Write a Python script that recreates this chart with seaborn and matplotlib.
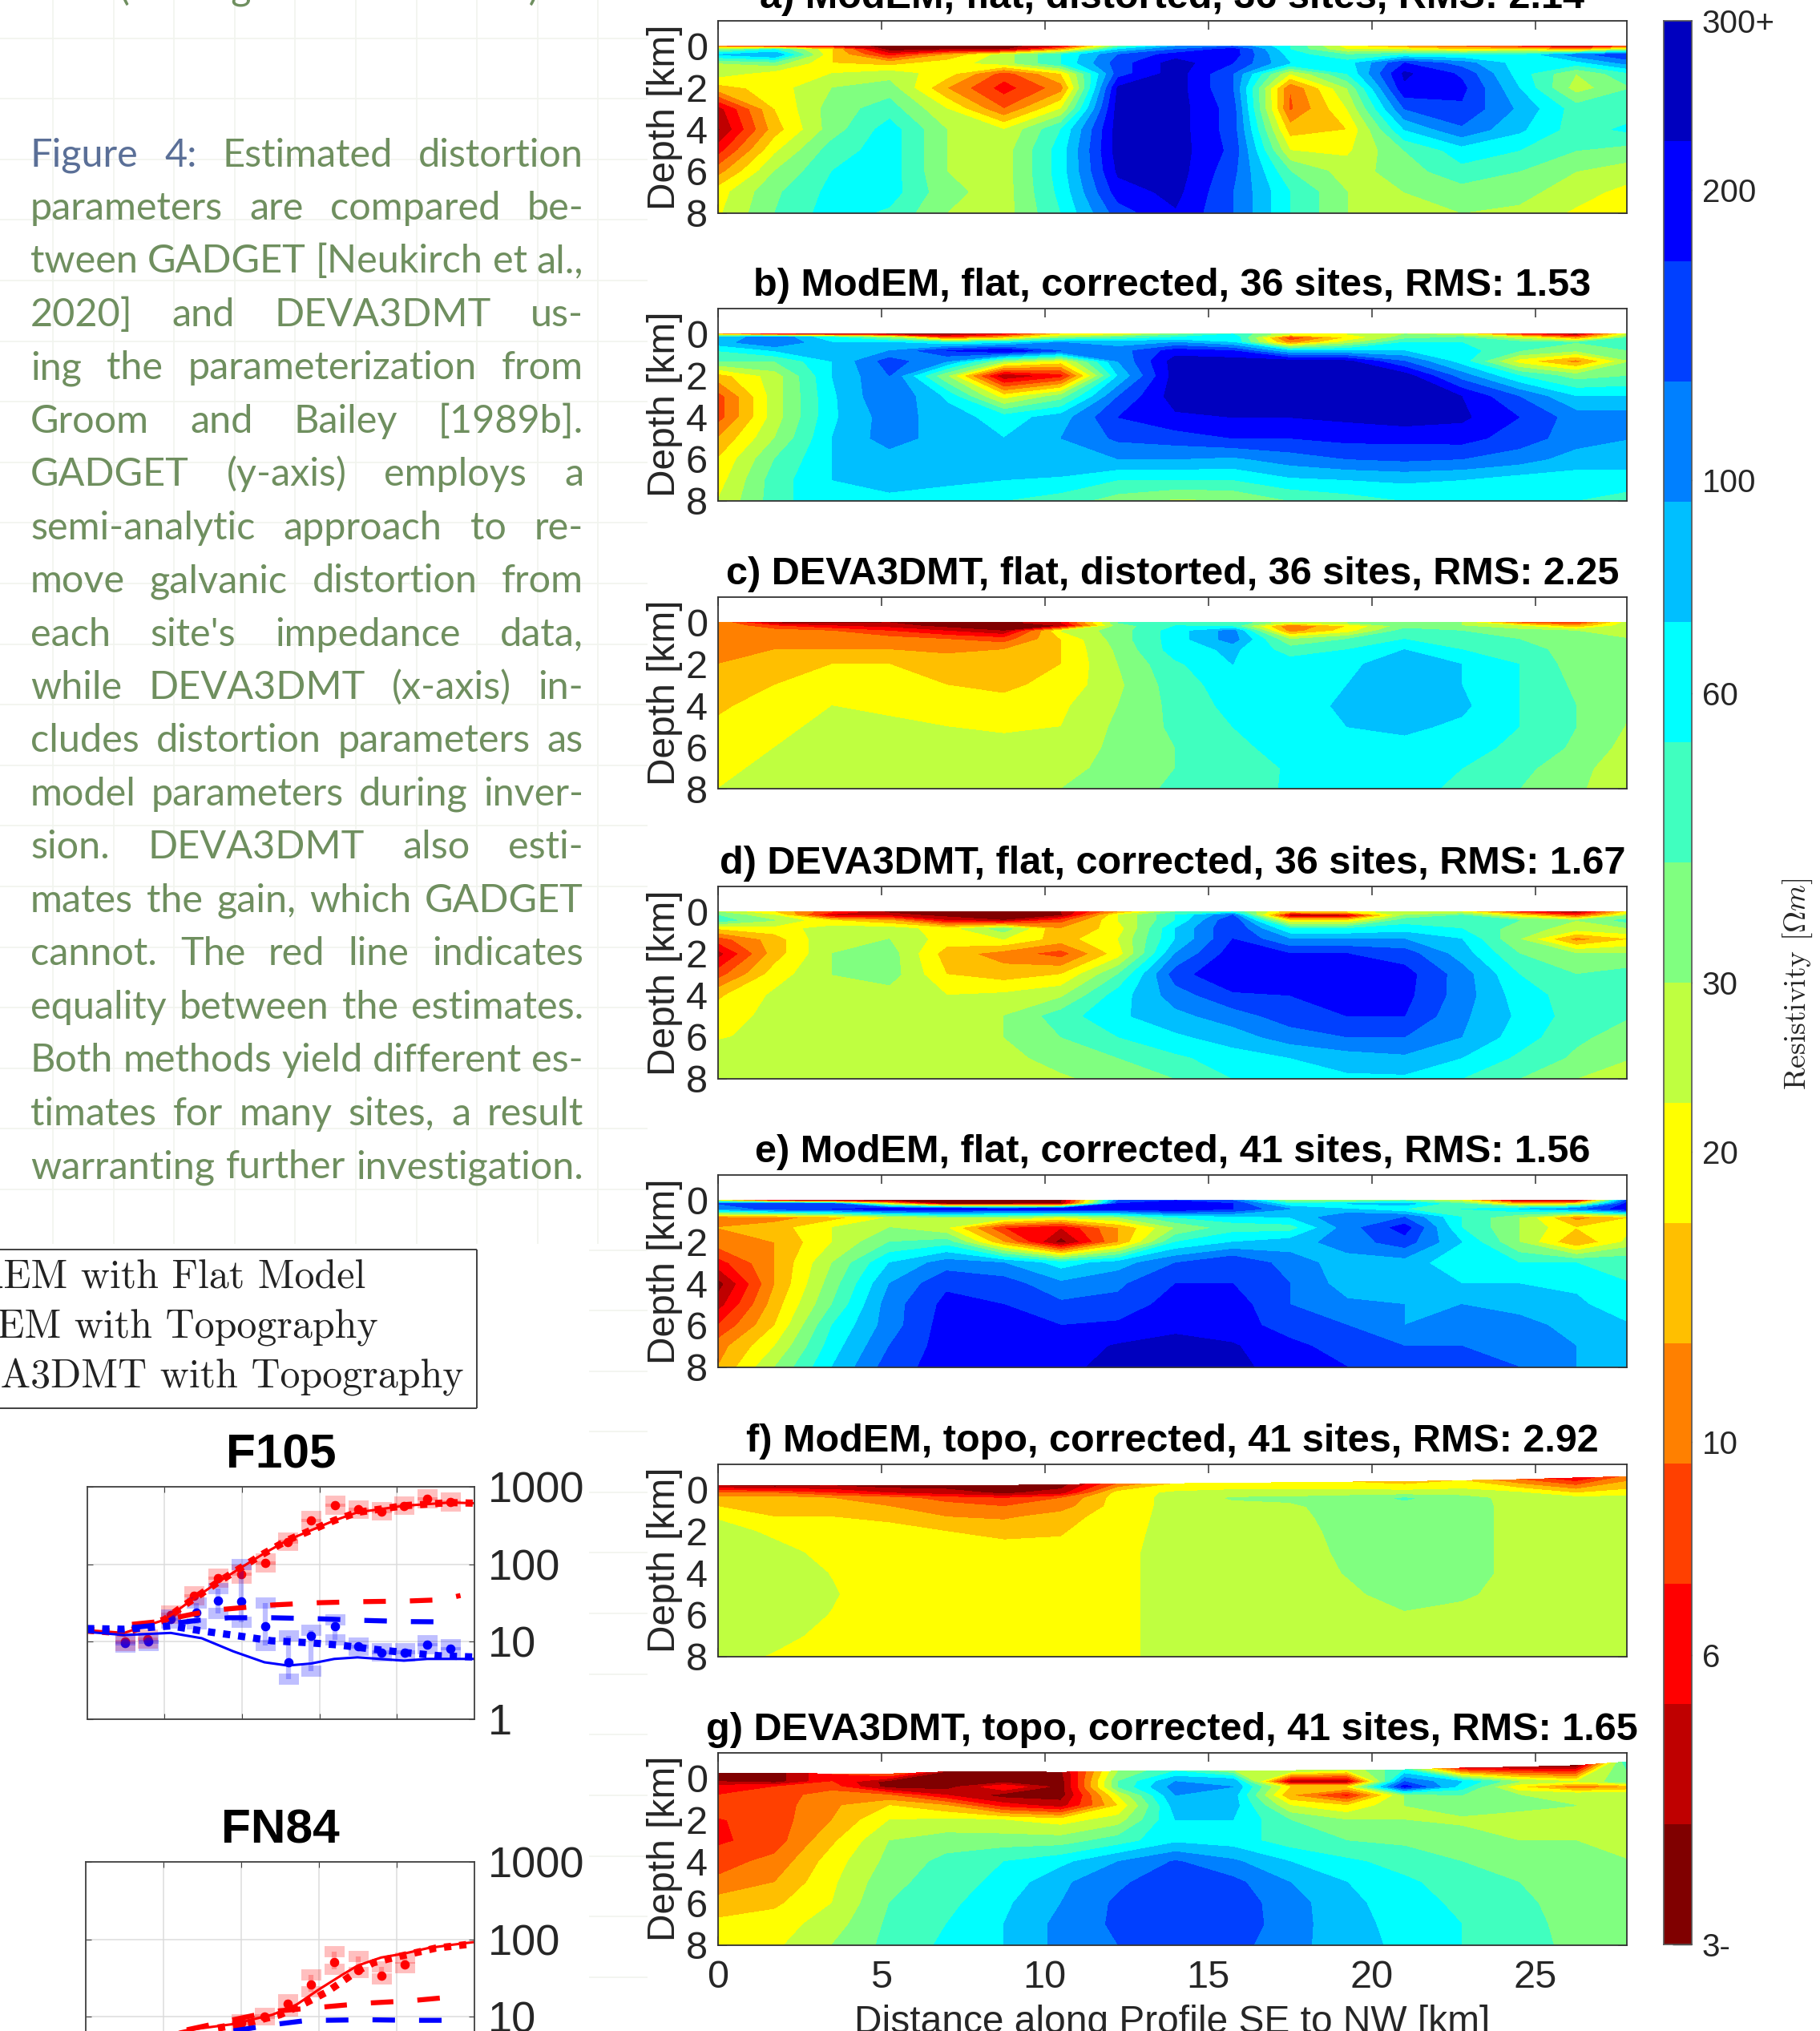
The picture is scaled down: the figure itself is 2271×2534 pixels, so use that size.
import numpy as np
import matplotlib
matplotlib.use('Agg')
import matplotlib.pyplot as plt
from matplotlib.colors import ListedColormap
import seaborn as sns

W, H = 2271, 2534

# distance along profile [km] and depth rows [km] of the read-off grids
dist = [0, 1.75, 3.5, 5.25, 7, 8.75, 10.5, 12.25, 14, 15.75, 17.5, 19.25, 21, 22.75, 24.5, 26.25, 28]
depth = [0, 0.15, 0.4, 0.8, 1.3, 2, 3, 4, 5, 6, 7, 8]

section_a = [
    [4, 3, 2, 0.5, 0.5, 0.5, 2, 9, 12, 13, 10, 6.5, 5, 4, 3, 1, 4],
    [8, 10, 6, 0.5, 1, 0.8, 5, 11, 13, 14.5, 10, 7, 7, 6, 6.5, 5, 8],
    [11, 12, 6, 2.5, 5, 7.5, 10, 13, 14.5, 14.5, 10.5, 9, 10, 10, 10, 12.5, 14],
    [8, 8.5, 6, 5.5, 6.5, 7.5, 10, 13.5, 15.5, 14, 11, 10.5, 14, 12.5, 10.5, 10.5, 12.5],
    [7.5, 6.5, 7, 7.5, 6.5, 3.5, 6, 13.5, 15.5, 13, 7, 10, 15.2, 13.8, 10.5, 8, 10],
    [5.5, 6.5, 8, 8.5, 5, 2.5, 4.5, 15.2, 15.5, 13, 4, 8, 14.8, 14.3, 11, 7.5, 9],
    [1.5, 6, 8.5, 9.5, 7, 4, 7, 15.5, 15.5, 13.5, 3.8, 7, 13, 13.8, 11.8, 9.5, 9.5],
    [0.8, 5.5, 8.5, 10.5, 8, 7, 10, 15.5, 15.5, 13.5, 5.5, 6, 11, 12.8, 11.2, 9.5, 10.3],
    [2.5, 6.8, 9.5, 10.5, 8, 7.5, 10.5, 15.5, 15.5, 13.7, 7, 6.8, 9, 10.5, 10, 9, 8.5],
    [4.5, 8, 10, 10.5, 8, 7.5, 10.5, 15.2, 15.5, 13.3, 9, 7.5, 8.5, 9.7, 9, 8, 7.5],
    [6.5, 8.8, 10.3, 10.5, 8.3, 7.5, 10.3, 14.5, 15.3, 13, 10, 8, 8, 8.5, 8.3, 7.5, 6.5],
    [6.8, 9, 10.5, 9.8, 8, 7.5, 10, 13.5, 14.9, 13, 10, 8, 8, 8, 7.8, 6.8, 6],
]
section_b = [
    [5, 2, 1.5, 0.8, 0.6, 2, 6, 6.5, 8.5, 10, 7, 7, 8, 7, 3, 0.8, 8],
    [11, 13, 10, 8, 3, 5, 8, 9, 10, 11, 3, 6, 8.5, 9, 7, 4, 9],
    [11.5, 13, 11, 11, 10, 10.5, 12, 11.5, 12, 11, 4.5, 7.5, 10, 10, 9.5, 9, 10],
    [10, 11, 11.5, 12, 14, 15, 13, 12.5, 14.5, 14, 11, 11, 11, 10.5, 9, 8, 9],
    [9, 9, 11, 13.5, 12, 8, 6.5, 12, 15.5, 15.5, 15.5, 15.2, 13, 10.5, 6.5, 4.5, 8],
    [5.5, 7.5, 11, 13, 8, 1, 2.5, 11, 15.5, 15.5, 15.5, 15.5, 15.5, 12.5, 10, 8.5, 9],
    [3.5, 7.5, 10.8, 13, 10.8, 6.5, 8.5, 13, 15.5, 15.5, 15.5, 15.5, 15.5, 15, 13, 11, 11],
    [3.5, 7.5, 10.8, 12.5, 11.5, 10.5, 11.5, 14, 14.8, 15, 15, 15.2, 15.5, 15.2, 14, 12.5, 12.5],
    [5, 8, 11, 12.5, 11.5, 11, 12, 13.2, 13.5, 14, 14, 14.3, 14.3, 14.4, 13.5, 12.5, 12],
    [6, 9, 11, 11.5, 11.5, 11.5, 12, 12, 12, 11.8, 12.5, 13, 13.2, 13, 12.5, 11.5, 11.5],
    [6.5, 9.5, 11, 11.3, 11.2, 11, 10.8, 10, 10, 10, 10.8, 11, 11.2, 11, 10.5, 10.5, 10.5],
    [7, 9.5, 11, 10.8, 10.5, 10, 9.5, 8.5, 7.8, 8, 9, 9.5, 10, 10, 10, 10, 9.5],
]
section_c = [
    [5, 1, 0.8, 1, 0.5, 0.5, 2, 9, 10, 10, 7, 8, 9, 8, 4, 3, 8],
    [5, 3, 2, 1.5, 0.5, 0.5, 1, 8.5, 10, 9.5, 4, 6, 8.5, 8, 7, 5, 8],
    [5, 4.5, 4, 3, 2, 1, 7, 8.5, 10.5, 12.5, 4.5, 6.5, 9.5, 9, 8.5, 8, 8],
    [5, 5, 5, 4.5, 4, 3.5, 6, 8.5, 10.5, 12.5, 8, 9, 10, 9.5, 9, 8.5, 8],
    [5, 5, 5, 5, 4.8, 5, 6, 8.2, 10.5, 11.2, 9.5, 10, 11, 10, 9.5, 8.5, 8],
    [5, 5.5, 6, 6, 5.5, 5.5, 6, 8, 9.8, 11, 10.5, 10.8, 11.5, 11, 10, 8.5, 8],
    [5.5, 6, 6.5, 6.5, 6, 5.8, 6.3, 7.8, 9.5, 10.5, 10.5, 11, 11.5, 11, 10, 8.8, 8],
    [5.8, 6.5, 7, 6.8, 6.5, 6.3, 6.8, 8, 9.3, 10.3, 10.5, 11.2, 11.5, 11.2, 10, 9, 8],
    [6.2, 6.8, 7.2, 7.2, 7, 6.9, 7, 8.2, 9.2, 10, 10.5, 11, 11.2, 10.8, 10, 9, 7.8],
    [6.5, 7, 7.3, 7.3, 7.2, 7.2, 7.5, 8.2, 9, 9.8, 10.3, 10.5, 10.7, 10.3, 9.8, 8.8, 7.5],
    [6.7, 7.3, 7.5, 7.5, 7.5, 7.6, 7.8, 8.2, 9, 9.5, 10.1, 10.4, 10.4, 10, 9.3, 8.3, 7.3],
    [7, 7.5, 7.7, 7.7, 7.8, 7.9, 8, 8.5, 9.2, 9.6, 10.1, 10.4, 10.3, 9.8, 9, 8.2, 7],
]
section_d = [
    [8, 6, 3, 0.8, 0.8, 0.5, 1, 5, 9, 10, 5, 6, 8, 7, 3, 0.8, 7],
    [9, 7, 1.5, 1.5, 0.5, 0.5, 0.8, 7, 10, 13, 1, 1, 8, 9, 6, 3, 8],
    [9.5, 8, 6, 5, 2, 1, 3.5, 7, 10, 14, 6, 6, 9.5, 10, 9, 8, 9.5],
    [6, 6.5, 7.5, 7.5, 6.5, 8.5, 5, 6.5, 11, 14, 10, 10, 10.5, 10, 8.5, 7.5, 8],
    [3.5, 5.5, 8, 8, 6.5, 7, 5.5, 7, 11, 14, 12, 12, 12, 11, 8, 4.5, 6],
    [1.5, 5.5, 8, 8.5, 5.5, 4.5, 3.5, 6.5, 12, 14.5, 14, 14, 13.5, 11.5, 9, 8, 8],
    [3.5, 6.5, 8, 8.5, 6, 5.5, 6, 9, 13.5, 15, 14.5, 14.5, 14.4, 12.5, 10, 9, 9.5],
    [5.8, 7.2, 7.8, 7.5, 7, 7.2, 7.8, 10.5, 12.5, 13.8, 14, 14.3, 14.3, 12.5, 10.5, 9.5, 9.5],
    [6.5, 7.3, 7.5, 7.5, 7.3, 8, 9.5, 10.8, 11.7, 12.5, 13.5, 14, 14, 12.2, 10.8, 9.5, 9],
    [6.9, 7.3, 7.4, 7.4, 7.4, 8, 9, 10, 10.8, 11.5, 12.5, 13, 13, 12, 10.5, 9.2, 8.5],
    [7.5, 7.5, 7.5, 7.5, 7.5, 7.6, 8.5, 9, 9.8, 10.5, 11, 11.5, 11.8, 11, 9.8, 8.8, 8],
    [7.5, 7.5, 7.2, 7, 7.3, 7.5, 7.8, 8.5, 9, 10, 10.4, 10.8, 10.8, 10, 9, 8, 7.5],
]
section_e = [
    [7, 2, 1, 0.8, 0.5, 0.5, 0.8, 13, 14, 13, 8, 8, 9, 7, 1, 1, 15],
    [13, 14, 13, 6, 0.5, 0.5, 1, 14, 15, 14, 10, 11, 11.5, 9, 5, 6, 15.5],
    [12, 13.5, 14, 15, 15, 14.5, 15, 14.5, 15, 14, 12, 11, 10, 10, 11, 12.5, 15],
    [4.5, 4.5, 5.5, 7, 8, 8, 7, 8, 10, 10.5, 11, 13, 13, 10, 8, 4.5, 6],
    [5, 5.5, 7, 8, 7, 3, 2, 5, 8, 9.5, 9.5, 12.5, 14.5, 10, 8, 6, 7],
    [4.5, 5, 7, 9, 9.5, 5, 0.5, 5, 10, 11, 11.5, 12.5, 13.5, 11, 8, 5, 7.5],
    [2.5, 5, 8, 11, 12.5, 12, 10.5, 11.5, 13, 14, 12.5, 11.5, 11.5, 10.3, 10, 10, 9.8],
    [0.5, 5, 8.5, 12, 13.8, 13.5, 12.2, 12.8, 14, 14, 13, 11.5, 11.5, 11, 11, 10.8, 10],
    [1.5, 5.5, 9, 12.5, 14.3, 14, 13.2, 13.3, 14.5, 14.5, 13, 12.2, 12, 12, 11.8, 11.2, 10.3],
    [3, 6, 10, 12.5, 14.5, 14.5, 14, 14.2, 14.7, 14.5, 13.5, 13, 12, 12.2, 12.2, 11.8, 11],
    [4.5, 7, 10.5, 13, 14.5, 14.5, 14.5, 15.1, 15.4, 15.1, 14.3, 13.5, 13, 13, 12.5, 12, 11.5],
    [5, 8, 11, 13.5, 14.5, 14.5, 14.6, 15.5, 15.8, 15.3, 14.5, 14, 13.5, 13.5, 13, 12, 11.5],
]
section_f = [
    [1, 0.5, 1, 0.5, 0.5, 0.5, 0.5, 4, 6, 6, 6, 6, 5.5, 6, 4, 2, 4.5],
    [4, 4, 3, 2, 1.5, 0.8, 1.5, 6.5, 7.2, 7.5, 7.5, 7.5, 7.5, 7.5, 7.2, 6, 6.5],
    [5.5, 5.5, 5, 4.5, 3.5, 3, 4, 6.5, 7.3, 8.1, 8.2, 8.5, 9.1, 8.5, 7.5, 7.4, 7.4],
    [6, 5.5, 5.5, 5, 4.5, 4, 4.5, 6.5, 7.3, 7.6, 7.8, 8.5, 8.7, 8.5, 7.6, 7.4, 7.4],
    [6.9, 6, 6, 5.8, 5, 4.8, 5.5, 6.6, 7.3, 7.4, 7.7, 8.4, 8.5, 8.5, 7.6, 7.4, 7.4],
    [7.4, 6.8, 6.3, 6.3, 6, 5.8, 5.9, 6.7, 7.3, 7.3, 7.6, 8.3, 8.5, 8.5, 7.6, 7.4, 7.4],
    [7.6, 7.3, 6.7, 6.3, 6.3, 6.3, 6.3, 6.8, 7.3, 7.3, 7.5, 8.2, 8.5, 8.5, 7.6, 7.4, 7.4],
    [7.7, 7.6, 6.95, 6.3, 6.3, 6.3, 6.3, 6.8, 7.3, 7.3, 7.5, 8.05, 8.5, 8.5, 7.6, 7.4, 7.4],
    [7.7, 7.6, 7.1, 6.3, 6.3, 6.3, 6.3, 6.8, 7.3, 7.3, 7.4, 7.8, 8.4, 8.2, 7.5, 7.4, 7.4],
    [7.6, 7.5, 6.95, 6.3, 6.3, 6.3, 6.3, 6.8, 7.3, 7.3, 7.3, 7.5, 7.9, 7.6, 7.4, 7.4, 7.4],
    [7.5, 7.3, 6.7, 6.3, 6.3, 6.3, 6.3, 6.8, 7.3, 7.3, 7.3, 7.4, 7.4, 7.4, 7.4, 7.4, 7.4],
    [7.4, 6.9, 6.5, 6.3, 6.3, 6.3, 6.3, 6.8, 7.3, 7.3, 7.3, 7.4, 7.4, 7.4, 7.4, 7.4, 7.4],
]
section_g = [
    [1, 0.5, 3, 4, 0.8, 0.8, 0.8, 8, 10, 8, 8, 7, 10, 2, 1, 0.5, 11],
    [1, 0.5, 3, 0.5, 0.5, 0.5, 0.5, 9, 12, 12, 1, 1, 13, 11, 8, 7, 9],
    [2.5, 3, 3.5, 0.5, 0.5, 3, 0.5, 9, 12.5, 12, 6, 6, 14.5, 10.5, 6, 4, 5],
    [3, 3.5, 4.5, 4, 2, 0.5, 0.5, 7, 12, 11.5, 5, 2.5, 8, 9, 8, 8, 8],
    [3.5, 3.5, 4.8, 6, 5, 2.5, 1.5, 6, 11.5, 11.5, 7, 6, 8, 8.5, 8.5, 8, 8],
    [2.9, 3.5, 5, 7, 7.2, 7, 6.5, 7.5, 11, 11, 9, 8, 8, 7.8, 7.2, 7.2, 7.2],
    [2.8, 3.5, 5.8, 8, 8.5, 8.5, 8.5, 9.5, 10.8, 10.5, 9.5, 9, 8.8, 8.5, 8, 8, 8],
    [3.6, 4.3, 6.5, 8.3, 9.3, 10, 10.7, 12, 13.1, 12.2, 11, 10.2, 9.6, 9, 8.5, 8.2, 8],
    [4.2, 5, 6.8, 8.7, 9.5, 10.3, 11.8, 12.8, 13.7, 13.3, 12, 11, 10.2, 9.5, 9, 8.4, 8],
    [5.5, 5.8, 7, 9, 9.7, 10.8, 12, 13.2, 13.9, 13.6, 12.4, 11.3, 10.4, 9.8, 9.2, 8.6, 8],
    [6.2, 6.5, 7.5, 9.2, 10, 11, 12.3, 13.2, 13.9, 13.7, 12.4, 11.4, 10.6, 10, 9.3, 8.7, 8],
    [6.5, 6.8, 8, 9.3, 10.2, 11, 12.3, 13, 13.8, 13.4, 12.3, 11.5, 10.7, 10, 9.3, 8.8, 8.2],
]
# surface height of the topography models, depth of the first grid row [km]
topo_f = [-0.2, -0.2, -0.2, -0.2, -0.22, -0.22, -0.25, -0.3, -0.3, -0.33, -0.35, -0.38, -0.4, -0.45, -0.5, -0.58, -0.65]
topo_g = [-0.25, -0.25, -0.22, -0.22, -0.32, -0.32, -0.3, -0.35, -0.35, -0.38, -0.38, -0.4, -0.42, -0.5, -0.55, -0.62, -0.82]

titles = ['a) ModEM, flat, distorted, 36 sites, RMS: 2.14',
          'b) ModEM, flat, corrected, 36 sites, RMS: 1.53',
          'c) DEVA3DMT, flat, distorted, 36 sites, RMS: 2.25',
          'd) DEVA3DMT, flat, corrected, 36 sites, RMS: 1.67',
          'e) ModEM, flat, corrected, 41 sites, RMS: 1.56',
          'f) ModEM, topo, corrected, 41 sites, RMS: 2.92',
          'g) DEVA3DMT, topo, corrected, 41 sites, RMS: 1.65']
panel_tops = [26, 385, 745, 1106, 1466, 1827, 2187]

band_colors = ['#800000', '#bf0000', '#ff0000', '#ff4000', '#ff8000', '#ffbf00', '#ffff00', '#bfff40',
               '#80ff80', '#40ffbf', '#00ffff', '#00bfff', '#0080ff', '#0040ff', '#0000ff', '#0000bf']
cbar_ticks = [300, 200, 100, 60, 30, 20, 10, 6, 3]
cbar_labels = ['300+', '200', '100', '60', '30', '20', '10', '6', '3-']

# sounding curves, x in decades of period from the left of the box
f105_red_solid_x = [0, .48, .78, 1, 1.28, 1.68, 1.98, 2.29, 2.59, 2.89, 3.19, 3.49, 3.79, 4.09, 4.39, 4.69, 5]
f105_red_solid = [14.1, 13, 16.3, 19.2, 30.7, 57.8, 89.5, 139, 205, 274, 367, 468, 515, 569, 597, 626, 614]
f105_red_dash_x = [.58, .88, 1.38, 1.68, 2.39, 2.99, 3.54, 4.12, 4.57, 4.82]
f105_red_dash = [16.8, 18, 22.9, 25.8, 29.8, 31.9, 32.9, 33.5, 34.8, 39.5]
f105_blue_solid_x = [0, .48, 1.08, 1.48, 1.89, 2.29, 2.59, 2.89, 3.19, 3.49, 4.09, 4.39, 5]
f105_blue_solid = [13.4, 12.2, 13, 11.1, 7.5, 5.43, 4.93, 5.23, 6, 6.29, 5.7, 6, 6]
f105_blue_dot_x = [0, .48, 1.08, 1.48, 1.98, 2.38, 2.84, 3.24, 3.69, 4.09, 4.54, 5]
f105_blue_dot = [14.8, 14.5, 16, 13.8, 11.8, 10.3, 9.74, 9.1, 8.02, 7.27, 6.6, 6.35]
f105_blue_dash_x = [.58, 1.08, 1.43, 1.83, 2.39, 2.99, 3.54, 4.14, 4.78]
f105_blue_dash = [15.2, 17.1, 18.9, 20.4, 20.4, 19.8, 18.9, 18.2, 18]
f105_red_pts_x = [.49, .78, 1.08, 1.38, 1.69, 1.99, 2.3, 2.59, 2.89, 3.2, 3.5, 3.8, 4.09, 4.39, 4.69]
f105_red_pts = [10, 10.8, 22, 39, 66, 74, 104, 195, 370, 575, 510, 480, 569, 700, 640]
f105_red_lo = [9, 9.7, 20, 35, 59, 66, 93, 175, 330, 515, 455, 430, 510, 625, 570]
f105_red_hi = [11.2, 12.1, 25, 44, 74, 83, 117, 220, 415, 645, 570, 540, 635, 785, 715]
f105_blue_pts_x = [.49, .79, 1.08, 1.41, 1.69, 1.99, 2.3, 2.6, 2.89, 3.2, 3.5, 3.8, 4.1, 4.39, 4.69]
f105_blue_pts = [9.5, 10, 19.5, 24, 34, 33, 15.8, 5.4, 12, 15.8, 8.7, 7.3, 7.3, 9.2, 8.2]
f105_blue_lo = [8.5, 9, 17.5, 17, 23, 18, 8.9, 3.3, 4.2, 10.5, 7.8, 6.5, 6.5, 8.2, 7.3]
f105_blue_hi = [10.6, 11.2, 22, 32, 49, 100, 32, 11.8, 14, 19, 9.7, 8.2, 8.2, 10.3, 9.2]

fn84_red_solid_x = [1, 1.3, 1.9, 2.4, 2.7, 3, 3.3, 3.5, 3.8, 4.1, 4.4, 4.7, 5]
fn84_red_solid = [5.8, 6.73, 8.07, 10.65, 14.1, 22.6, 34.9, 46, 58.3, 65.7, 77, 84.8, 92.4]
fn84_red_dot_x = [1.7, 2.1, 2.5, 2.8, 3.1, 3.3, 3.5, 3.7, 3.9, 4.2, 4.5, 5]
fn84_red_dot = [7.17, 8.4, 10.65, 14.6, 20.9, 28.6, 39.3, 49.9, 56.1, 65.7, 77, 88]
fn84_red_dash_x = [1.3, 1.7, 2.2, 2.5, 3.02, 3.6, 4.17, 4.75]
fn84_red_dash = [6.8, 8.3, 10.65, 12, 13.3, 15, 16.1, 18.2]
fn84_blue_dash_x = [1.9, 2.47, 2.8, 3.05, 3.62, 4.17, 4.75]
fn84_blue_dash = [6.6, 8.07, 8.87, 9.02, 9.17, 9.02, 9.02]
fn84_red_pts_x = [2, 2.3, 2.6, 2.9, 3.2, 3.5, 3.8, 4.1]
fn84_red_pts = [8.4, 10.2, 14.6, 26, 50.6, 40, 34, 47.9]
fn84_red_lo = [7.5, 9.1, 12, 20.9, 41, 37.8, 31, 43]
fn84_red_hi = [9.1, 11, 16.5, 34.9, 70, 60, 44, 58]

legend_lines = ['ModEM with Flat Model', 'ModEM with Topography', 'DEVA3DMT with Topography']
legend_right = [456, 472, 579]
caption = ['Figure 4: Estimated distortion', 'parameters are compared be-', 'tween GADGET [Neukirch et al.,',
           '2020] and DEVA3DMT us-', 'ing the parameterization from', 'Groom and Bailey [1989b].',
           'GADGET (y-axis) employs a', 'semi-analytic approach to re-', 'move galvanic distortion from',
           "each site's impedance data,", 'while DEVA3DMT (x-axis) in-', 'cludes distortion parameters as',
           'model parameters during inver-', 'sion. DEVA3DMT also esti-', 'mates the gain, which GADGET',
           'cannot. The red line indicates', 'equality between the estimates.', 'Both methods yield different es-',
           'timates for many sites, a result', 'warranting further investigation.']

sns.set_style('white')
plt.rcParams['font.family'] = ['Liberation Sans', 'DejaVu Sans']
plt.rcParams['mathtext.fontset'] = 'cm'
plt.rcParams['text.color'] = '#262626'
dark = '#404040'


def box(left, top, right, bottom):
    return fig.add_axes([left / W, 1 - bottom / H, (right - left) / W, (bottom - top) / H])


fig = plt.figure(figsize=(W / 100, H / 100), dpi=100)

# faint page grid behind the slide text
page = fig.add_axes([0, 0, 1, 1], zorder=-1)
page.set_xlim(0, W)
page.set_ylim(H, 0)
page.axis('off')
grid_x = np.arange(66, 800, 75.6)
grid_y = np.arange(47.5, H, 75.6)
page.vlines(grid_x, 0, 1552, color='#f1f4ee', lw=1.2)
page.hlines(grid_y[grid_y < 1552], 0, 808, color='#f1f4ee', lw=1.2)
page.hlines(grid_y[grid_y >= 1552], 735, 808, color='#f1f4ee', lw=1.2)

# justified caption, word by word
renderer = fig.canvas.get_renderer()
text_kw = dict(family='Lato', fontsize=35, va='baseline')


def justified(words, y, colors, right=728):
    items = [page.text(0, y, w, color=c, **text_kw) for w, c in zip(words, colors)]
    widths = [t.get_window_extent(renderer).width for t in items]
    gap = (right - 38 - sum(widths)) / max(len(words) - 1, 1)
    pos = 38
    for t, wd in zip(items, widths):
        t.set_x(pos)
        pos += wd + gap


justified('time (see Figure 2 for details)'.split(), 0, ['#6f8f5f'] * 6, right=674)
for i, line in enumerate(caption):
    words = line.split()
    colors = ['#6f8f5f'] * len(words)
    if i == 0:
        colors[0] = colors[1] = '#5a6f97'
    justified(words, 207.5 + 66.45 * i, colors)

# legend box, its left part runs off the page
page.vlines(595, 1559, 1757, color=dark, lw=1.4, zorder=3)
page.hlines([1559, 1757], 0, 595, color=dark, lw=1.4, zorder=3)
for line, right, y in zip(legend_lines, legend_right, [1607, 1669, 1731]):
    page.text(right, y, line, family='cmr10', fontsize=36, ha='right', va='baseline', color='#222222')

# resistivity sections
cmap = ListedColormap(band_colors)
sections = [section_a, section_b, section_c, section_d, section_e, section_f, section_g]
tops = [None, None, None, None, None, topo_f, topo_g]
for i, (sec, title, top) in enumerate(zip(sections, titles, panel_tops)):
    ax = box(895.5, top, 2030, top + 239.5)
    xx, zz = np.meshgrid(dist, depth)
    if tops[i] is not None:
        zz[0, :] = tops[i]
    ax.contourf(xx, zz, np.array(sec), levels=np.arange(17), cmap=cmap, vmin=0, vmax=16)
    ax.set_xlim(0, 27.8)
    ax.set_ylim(8, -1.23)
    ax.set_xticks([0, 5, 10, 15, 20, 25])
    ax.set_yticks([0, 2, 4, 6, 8])
    ax.tick_params(direction='in', length=8, width=1.1, color='#333333', top=True, right=True, bottom=True,
                   left=True, labelsize=35, labelcolor='#262626', pad=9, labelbottom=i == 6)
    ax.tick_params(axis='x', pad=13)
    ax.set_ylabel('Depth [km]', fontsize=34.5, color='#262626', labelpad=3)
    ax.set_title(title, fontsize=35, fontweight='bold', color='black', pad=11.5)
    for s in ax.spines.values():
        s.set_linewidth(1.3)
        s.set_color('#333333')
    if i == 6:
        ax.set_xlabel('Distance along Profile SE to NW [km]', fontsize=34.5, color='#262626', labelpad=8)

# colour bar, one cell per band
cax = box(2075.5, 26, 2111, 2426)
sns.heatmap(np.arange(15, -1, -1).reshape(-1, 1), cmap=cmap, vmin=0, vmax=16, cbar=False, ax=cax,
            xticklabels=False, yticklabels=False)
cax.set_yticks(16 * (np.log10(300) - np.log10(cbar_ticks)) / 2)
cax.set_yticklabels(cbar_labels, rotation=0)
cax.yaxis.tick_right()
cax.tick_params(axis='y', direction='in', length=17, width=1, color='#222222', labelsize=29,
                labelcolor='#262626', pad=9, right=True, left=False)
for s in cax.spines.values():
    s.set_visible(True)
    s.set_linewidth(1.2)
    s.set_color('#555555')
fig.text(2243 / W, 1 - 1228 / H, r'Resistivity $[\Omega m]$', rotation=90, family='cmr10', fontsize=27,
         ha='center', va='center', color='#262626')


# sounding plots on the left
def sounding(ax, title):
    ax.set_xscale('linear')
    ax.set_yscale('log')
    ax.set_xlim(0, 5)
    ax.set_ylim(1, 1000)
    ax.set_xticks([1, 2, 3, 4])
    ax.set_yticks([1, 10, 100, 1000])
    ax.set_yticklabels(['1', '10', '100', '1000'])
    ax.minorticks_off()
    ax.grid(True, color='#dcdcdc', lw=1.1)
    ax.yaxis.tick_right()
    ax.tick_params(axis='x', labelbottom=False, direction='in', length=5, color=dark, top=True, bottom=True)
    ax.tick_params(axis='y', labelsize=39, labelcolor='#262626', direction='in', length=5, color=dark,
                   left=True, right=True, pad=12)
    for s in ax.spines.values():
        s.set_visible(True)
        s.set_linewidth(1.3)
        s.set_color(dark)
    ax.set_title(title, fontsize=43.5, fontweight='bold', color='black', pad=17)


def points(ax, x, y, lo, hi, color):
    y, lo, hi = np.array(y), np.array(lo), np.array(hi)
    ax.errorbar(x, y, yerr=[y - lo, hi - y], fmt='none', ecolor=color, alpha=0.25, elinewidth=4.5,
                capsize=9, capthick=10)
    sns.scatterplot(x=x, y=y, color=color, s=70, linewidth=0, ax=ax, legend=False)


def curve(ax, x, y, color, style):
    if style == 'solid':
        sns.lineplot(x=x, y=y, color=color, lw=2.2, estimator=None, sort=False, ax=ax)
    elif style == 'dot':
        sns.lineplot(x=x, y=y, color=color, lw=6.5, dashes=[(1, 1.1)], style=[0] * len(x), estimator=None,
                     sort=False, ax=ax, legend=False)
    else:
        sns.lineplot(x=x, y=y, color=color, lw=4.5, dashes=[(4.5, 4.8)], style=[0] * len(x), estimator=None,
                     sort=False, ax=ax, legend=False)


ax1 = box(108.6, 1855, 592, 2145)
sounding(ax1, 'F105')
points(ax1, f105_red_pts_x, f105_red_pts, f105_red_lo, f105_red_hi, 'red')
points(ax1, f105_blue_pts_x, f105_blue_pts, f105_blue_lo, f105_blue_hi, 'blue')
curve(ax1, f105_red_solid_x, f105_red_solid, 'red', 'solid')
curve(ax1, f105_red_solid_x, f105_red_solid, 'red', 'dot')
curve(ax1, f105_red_dash_x, f105_red_dash, 'red', 'dash')
curve(ax1, f105_blue_solid_x, f105_blue_solid, 'blue', 'solid')
curve(ax1, f105_blue_dot_x, f105_blue_dot, 'blue', 'dot')
curve(ax1, f105_blue_dash_x, f105_blue_dash, 'blue', 'dash')
ax1.set_ylim(1, 1000)

# second sounding box continues below the page
ax2 = box(107, 2323, 592, 2613)
sounding(ax2, 'FN84')
points(ax2, fn84_red_pts_x, fn84_red_pts, fn84_red_lo, fn84_red_hi, 'red')
curve(ax2, fn84_red_solid_x, fn84_red_solid, 'red', 'solid')
curve(ax2, fn84_red_dot_x, fn84_red_dot, 'red', 'dot')
curve(ax2, fn84_red_dash_x, fn84_red_dash, 'red', 'dash')
curve(ax2, fn84_blue_dash_x, fn84_blue_dash, 'blue', 'dash')
ax2.set_ylim(1, 1000)

fig.savefig('out.png', dpi=100)
